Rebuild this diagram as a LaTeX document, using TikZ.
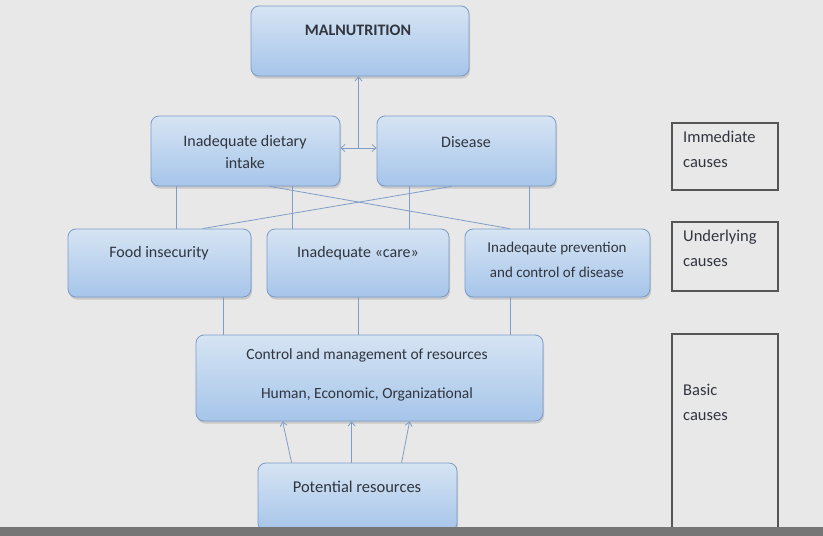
\documentclass[tikz,border=0pt]{standalone}
\usepackage{fontspec}
\setmainfont{Carlito}
\usetikzlibrary{shadows,arrows.meta}
\definecolor{bg}{HTML}{E8E8E8}
\definecolor{band}{HTML}{767676}
\definecolor{boxtop}{HTML}{D6E4F3}
\definecolor{boxbot}{HTML}{A6C5EA}
\definecolor{boxline}{HTML}{7A9BC8}
\definecolor{conn}{HTML}{7F9DC8}
\definecolor{txt}{HTML}{30353F}
\definecolor{gline}{HTML}{555555}
\tikzset{
  bluebox/.style={draw=boxline, line width=0.8pt, rounded corners=8pt,
    top color=boxtop, bottom color=boxbot, inner sep=0pt,
    drop shadow={opacity=0.3, shadow xshift=1pt, shadow yshift=-2.5pt}},
  btxt/.style={text=txt, font=\fontsize{16}{22}\selectfont, align=center, inner sep=0pt},
  gbox/.style={draw=gline, line width=1.6pt, fill=bg, inner sep=0pt},
  gtxt/.style={text=txt, font=\fontsize{16.5}{25}\selectfont, align=left, inner sep=0pt, anchor=north west},
  conline/.style={draw=conn, line width=0.8pt},
  arr/.style={conline, -{Straight Barb[length=4pt,width=7pt]}},
  darr/.style={conline, {Straight Barb[length=4pt,width=7pt]}-{Straight Barb[length=4pt,width=7pt]}}
}
\begin{document}
\begin{tikzpicture}[x=1pt,y=-1pt]
\fill[bg] (0,0) rectangle (823,536);
\useasboundingbox (0,0) rectangle (823,536);

% blue boxes
\node[bluebox, minimum width=218pt, minimum height=70pt] (mal) at (360,41) {};
\node[bluebox, minimum width=189pt, minimum height=70pt] (intake) at (245.5,151) {};
\node[bluebox, minimum width=179pt, minimum height=70pt] (disease) at (466.5,151) {};
\node[bluebox, minimum width=183pt, minimum height=68pt] (food) at (159.5,263) {};
\node[bluebox, minimum width=182pt, minimum height=68pt] (care) at (358,263) {};
\node[bluebox, minimum width=185pt, minimum height=68pt] (prev) at (557.5,263) {};
\node[bluebox, minimum width=347pt, minimum height=86pt] (ctrl) at (369.5,378) {};
\node[bluebox, minimum width=199pt, minimum height=68pt] (pot) at (357.5,497) {};

% texts
\node[btxt, font=\fontsize{16}{22}\bfseries] (malT) at (358,30) {MALNUTRITION};
\node[btxt] (intakeT) at (245,152) {Inadequate dietary\\intake};
\node[btxt] (diseaseT) at (466,142) {Disease};
\node[btxt] (foodT) at (159,253) {Food insecurity};
\node[btxt] (careT) at (358,253) {Inadequate «care»};
\node[btxt, font=\fontsize{15}{25}\selectfont] (prevT) at (557,260) {Inadeqaute prevention\\and control of disease};
\node[btxt, font=\fontsize{15.5}{22}\selectfont] (ctrlT1) at (367,355) {Control and management of resources};
\node[btxt, font=\fontsize{15.5}{22}\selectfont] (ctrlT2) at (367,394) {Human, Economic, Organizational};
\node[btxt, font=\fontsize{16.5}{22}\selectfont] (potT) at (357,487) {Potential resources};

% connectors
\coordinate (mid) at (358.5,148);
\draw[arr] (mid) -- (mid |- mal.south);
\draw[darr] (intake.east |- mid) -- (disease.west |- mid);

\draw[conline] ([xshift=26pt]intake.south west) -- ([xshift=109pt]food.north west);
\draw[conline] ([xshift=142pt]intake.south west) -- ([xshift=26pt]care.north west);
\draw[conline] ([xshift=33pt]disease.south west) -- ([xshift=143pt]care.north west);
\draw[conline] ([xshift=153pt]disease.south west) -- ([xshift=65pt]prev.north west);
\draw[conline] ([xshift=119pt]intake.south west) -- ([xshift=45pt]prev.north west);
\draw[conline] ([xshift=75pt]disease.south west) -- ([xshift=135pt]food.north west);

\draw[conline] ([xshift=156pt]food.south west) -- ([xshift=28pt]ctrl.north west);
\draw[conline] ([xshift=92pt]care.south west) -- ([xshift=163pt]ctrl.north west);
\draw[conline] ([xshift=46pt]prev.south west) -- ([xshift=315pt]ctrl.north west);

\draw[arr] ([xshift=34pt]pot.north west) -- ([xshift=87pt]ctrl.south west);
\draw[arr] ([xshift=94pt]pot.north west) -- ([xshift=156pt]ctrl.south west);
\draw[arr] ([xshift=144pt]pot.north west) -- ([xshift=214pt]ctrl.south west);

% right side labels
\node[gbox, minimum width=106pt, minimum height=67pt] (imm) at (725,156.5) {};
\node[gbox, minimum width=106pt, minimum height=69pt] (und) at (725,256.5) {};
\node[gbox, minimum width=106pt, minimum height=200pt] (bas) at (725,434) {};
\node[gtxt] (immT) at (683,131) {Immediate\\causes};
\node[gtxt] (undT) at (683,230) {Underlying\\causes};
\node[gtxt] (basT) at (683,384) {Basic\\causes};

% bottom band
\fill[band] (0,527) rectangle (823,536);
\end{tikzpicture}
\end{document}
